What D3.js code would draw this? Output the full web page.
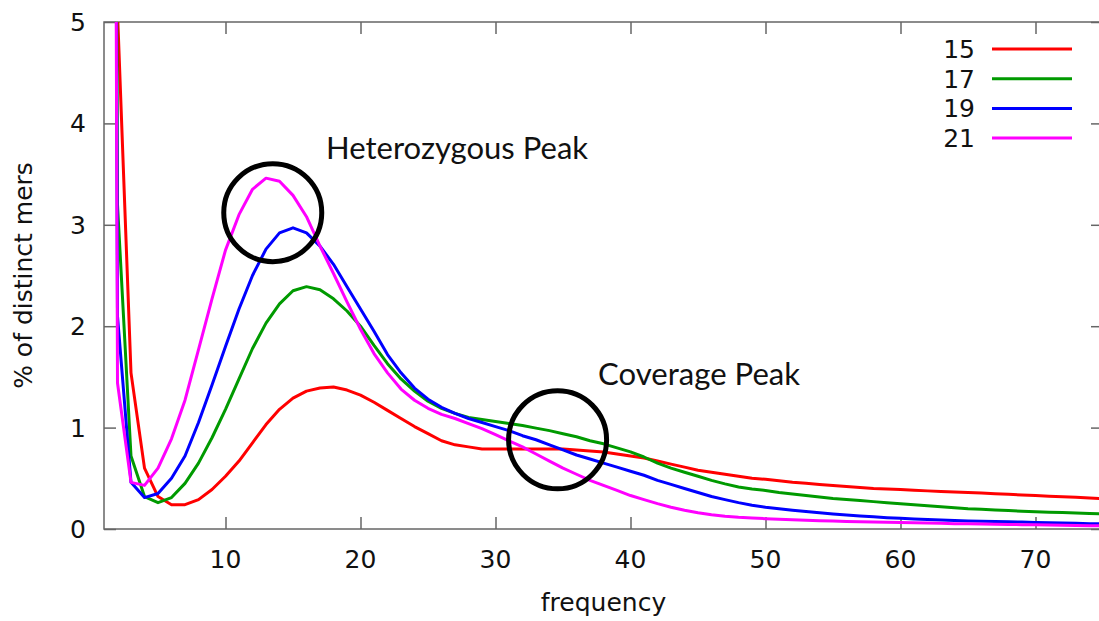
<!DOCTYPE html>
<html>
<head>
<meta charset="utf-8">
<script src="https://cdn.jsdelivr.net/npm/d3@7"></script>
<style>
  body { margin: 0; background: #fff; }
  text { font-family: "DejaVu Sans", sans-serif; fill: #111; }
  .note { font-family: Lato, "Open Sans", sans-serif; }
</style>
</head>
<body>
<div id="vis"></div>
<script>
const FRAME_HEIGHT = 621;
const FRAME_WIDTH = 1099;
const MARGINS = { left: 104, right: -4, top: 22, bottom: 92 };

const VIS_HEIGHT = FRAME_HEIGHT - MARGINS.top - MARGINS.bottom;
const VIS_WIDTH = FRAME_WIDTH - MARGINS.left - MARGINS.right;

// data
const FREQUENCIES = [1, 2, 3, 4, 5, 6, 7, 8, 9, 10, 11, 12, 13, 14, 15, 16, 17, 18, 19, 20,
	21, 22, 23, 24, 25, 26, 27, 28, 29, 30, 31, 32, 33, 34, 35, 36, 37, 38, 39, 40,
	41, 42, 43, 44, 45, 46, 47, 48, 49, 50, 51, 52, 53, 54, 55, 56, 57, 58, 59, 60,
	61, 62, 63, 64, 65, 66, 67, 68, 69, 70, 71, 72, 73, 74, 75];

const KMER_SIZES = ["15", "17", "19", "21"];
const COLORS = ["#ff0000", "#009a00", "#0000ff", "#ff00ff"];

const K15 = [40, 5.1, 1.54, 0.60, 0.32, 0.24, 0.24, 0.29, 0.39, 0.52,
	0.67, 0.85, 1.03, 1.18, 1.29, 1.36, 1.39, 1.40, 1.37, 1.32,
	1.25, 1.17, 1.09, 1.01, 0.94, 0.87, 0.83, 0.81, 0.79, 0.79,
	0.79, 0.79, 0.79, 0.79, 0.79, 0.78, 0.77, 0.76, 0.74, 0.72,
	0.70, 0.67, 0.64, 0.61, 0.58, 0.56, 0.54, 0.52, 0.50, 0.49,
	0.475, 0.46, 0.45, 0.44, 0.43, 0.42, 0.41, 0.40, 0.395, 0.39,
	0.383, 0.376, 0.37, 0.365, 0.36, 0.354, 0.348, 0.342, 0.336, 0.33,
	0.324, 0.318, 0.312, 0.306, 0.30];

const K17 = [40, 3.2, 0.72, 0.32, 0.26, 0.31, 0.45, 0.65, 0.90, 1.18,
	1.48, 1.78, 2.03, 2.22, 2.35, 2.39, 2.36, 2.27, 2.15, 2.00,
	1.81, 1.63, 1.48, 1.36, 1.26, 1.19, 1.14, 1.10, 1.08, 1.06,
	1.04, 1.02, 0.995, 0.97, 0.94, 0.91, 0.87, 0.84, 0.80, 0.76,
	0.71, 0.65, 0.60, 0.56, 0.52, 0.48, 0.445, 0.415, 0.395, 0.38,
	0.36, 0.345, 0.33, 0.315, 0.30, 0.29, 0.28, 0.27, 0.26, 0.25,
	0.24, 0.23, 0.22, 0.21, 0.20, 0.194, 0.188, 0.182, 0.176, 0.17,
	0.166, 0.162, 0.157, 0.152, 0.148];

const K19 = [40, 2.1, 0.46, 0.31, 0.35, 0.50, 0.72, 1.05, 1.42, 1.80,
	2.17, 2.50, 2.76, 2.92, 2.97, 2.92, 2.79, 2.61, 2.39, 2.17,
	1.95, 1.72, 1.54, 1.39, 1.28, 1.20, 1.14, 1.09, 1.05, 1.01,
	0.97, 0.92, 0.88, 0.83, 0.78, 0.73, 0.69, 0.65, 0.61, 0.57,
	0.53, 0.48, 0.44, 0.40, 0.36, 0.32, 0.29, 0.26, 0.235, 0.215,
	0.20, 0.185, 0.172, 0.16, 0.148, 0.138, 0.128, 0.12, 0.112, 0.105,
	0.099, 0.094, 0.089, 0.084, 0.08, 0.077, 0.074, 0.071, 0.068, 0.065,
	0.062, 0.059, 0.056, 0.053, 0.05];

const K21 = [40, 1.44, 0.46, 0.43, 0.60, 0.89, 1.27, 1.77, 2.27, 2.75,
	3.10, 3.35, 3.46, 3.43, 3.29, 3.08, 2.79, 2.52, 2.24, 1.97,
	1.73, 1.54, 1.38, 1.27, 1.19, 1.13, 1.09, 1.04, 0.99, 0.93,
	0.87, 0.81, 0.74, 0.67, 0.60, 0.54, 0.48, 0.43, 0.38, 0.33,
	0.29, 0.25, 0.215, 0.185, 0.16, 0.14, 0.125, 0.115, 0.108, 0.102,
	0.096, 0.091, 0.086, 0.082, 0.078, 0.075, 0.072, 0.069, 0.066, 0.063,
	0.061, 0.058, 0.056, 0.053, 0.051, 0.049, 0.047, 0.045, 0.043, 0.041,
	0.039, 0.037, 0.035, 0.033, 0.031];

const SERIES = [K15, K17, K19, K21];

const X_TICKS = [10, 20, 30, 40, 50, 60, 70];
const Y_TICKS = [0, 1, 2, 3, 4, 5];

// annotation circles and labels, in data units
const NOTES = [
	{ label: "Heterozygous Peak", x: 17.45, y: 3.65, width: 262, cx: 13.5, cy: 3.12 },
	{ label: "Coverage Peak", x: 37.6, y: 1.42, width: 202, cx: 34.6, cy: 0.88 }
];

const FRAME = d3.select("#vis")
	.append("svg")
	.attr("height", FRAME_HEIGHT)
	.attr("width", FRAME_WIDTH);

const build_plot = () => {

	// scales
	const X_SCALE = d3.scaleLinear()
		.domain([1, 75])
		.range([0, VIS_WIDTH]);

	const Y_SCALE = d3.scaleLinear()
		.domain([0, 5])
		.range([VIS_HEIGHT, 0]);

	const PLOT = FRAME.append("g")
		.attr("transform", `translate(${MARGINS.left}, ${MARGINS.top})`);

	PLOT.append("clipPath")
		.attr("id", "clip")
		.append("rect")
		.attr("width", VIS_WIDTH)
		.attr("height", VIS_HEIGHT);

	// axes with inward ticks, mirrored like gnuplot
	const axisStyle = (g) => {
		g.selectAll(".domain").remove();
		g.selectAll("line").attr("stroke", "#666").attr("stroke-width", 1.5);
		g.selectAll("text").remove();
	};

	PLOT.append("g")
		.attr("transform", `translate(0, ${VIS_HEIGHT})`)
		.call(d3.axisBottom(X_SCALE).tickValues(X_TICKS).tickSizeInner(-12).tickSizeOuter(0))
		.call(axisStyle);

	PLOT.append("g")
		.call(d3.axisTop(X_SCALE).tickValues(X_TICKS).tickSizeInner(-12).tickSizeOuter(0))
		.call(axisStyle);

	PLOT.append("g")
		.call(d3.axisLeft(Y_SCALE).tickValues(Y_TICKS).tickSizeInner(-12).tickSizeOuter(0))
		.call(axisStyle);

	PLOT.append("g")
		.attr("transform", `translate(${VIS_WIDTH}, 0)`)
		.call(d3.axisRight(Y_SCALE).tickValues(Y_TICKS).tickSizeInner(-12).tickSizeOuter(0))
		.call(axisStyle);

	PLOT.append("rect")
		.attr("width", VIS_WIDTH)
		.attr("height", VIS_HEIGHT)
		.attr("fill", "none")
		.attr("stroke", "#666")
		.attr("stroke-width", 1.5);

	// tick labels
	PLOT.selectAll(".xlab")
		.data(X_TICKS)
		.enter()
		.append("text")
		.attr("x", (d) => X_SCALE(d))
		.attr("y", VIS_HEIGHT + 39)
		.attr("text-anchor", "middle")
		.style("font-size", "25px")
		.text((d) => d);

	PLOT.selectAll(".ylab")
		.data(Y_TICKS)
		.enter()
		.append("text")
		.attr("x", -18)
		.attr("y", (d) => Y_SCALE(d))
		.attr("dy", "0.36em")
		.attr("text-anchor", "end")
		.style("font-size", "25px")
		.text((d) => d);

	// lines
	const LINE = d3.line()
		.x((d, i) => X_SCALE(FREQUENCIES[i]))
		.y((d) => Y_SCALE(d));

	const LINES = PLOT.append("g").attr("clip-path", "url(#clip)");

	LINES.selectAll(".series")
		.data(SERIES)
		.enter()
		.append("path")
		.attr("d", (d) => LINE(d))
		.attr("fill", "none")
		.attr("stroke", (d, i) => COLORS[i])
		.attr("stroke-width", 3)
		.attr("stroke-linejoin", "round");

	// legend
	const LEGEND = FRAME.append("g");
	KMER_SIZES.forEach((k, i) => {
		const y = 49 + i * 29.7;
		LEGEND.append("text")
			.attr("x", 975)
			.attr("y", y)
			.attr("dy", "0.36em")
			.attr("text-anchor", "end")
			.style("font-size", "25px")
			.text(k);
		LEGEND.append("line")
			.attr("x1", 992)
			.attr("x2", 1072)
			.attr("y1", y)
			.attr("y2", y)
			.attr("stroke", COLORS[i])
			.attr("stroke-width", 3);
	});

	// annotations
	NOTES.forEach((n) => {
		PLOT.append("circle")
			.attr("cx", X_SCALE(n.cx))
			.attr("cy", Y_SCALE(n.cy))
			.attr("r", 49)
			.attr("fill", "none")
			.attr("stroke", "#000")
			.attr("stroke-width", 5);
		PLOT.append("text")
			.attr("class", "note")
			.attr("x", X_SCALE(n.x))
			.attr("y", Y_SCALE(n.y))
			.attr("textLength", n.width)
			.attr("lengthAdjust", "spacingAndGlyphs")
			.style("font-size", "30px")
			.text(n.label);
	});

	// axis titles
	FRAME.append("text")
		.attr("x", MARGINS.left + VIS_WIDTH / 2)
		.attr("y", 611)
		.attr("text-anchor", "middle")
		.style("font-size", "25px")
		.text("frequency");

	FRAME.append("text")
		.attr("transform", `translate(32, ${MARGINS.top + VIS_HEIGHT / 2}) rotate(-90)`)
		.attr("text-anchor", "middle")
		.style("font-size", "25px")
		.text("% of distinct mers");
};

build_plot();
</script>
</body>
</html>
